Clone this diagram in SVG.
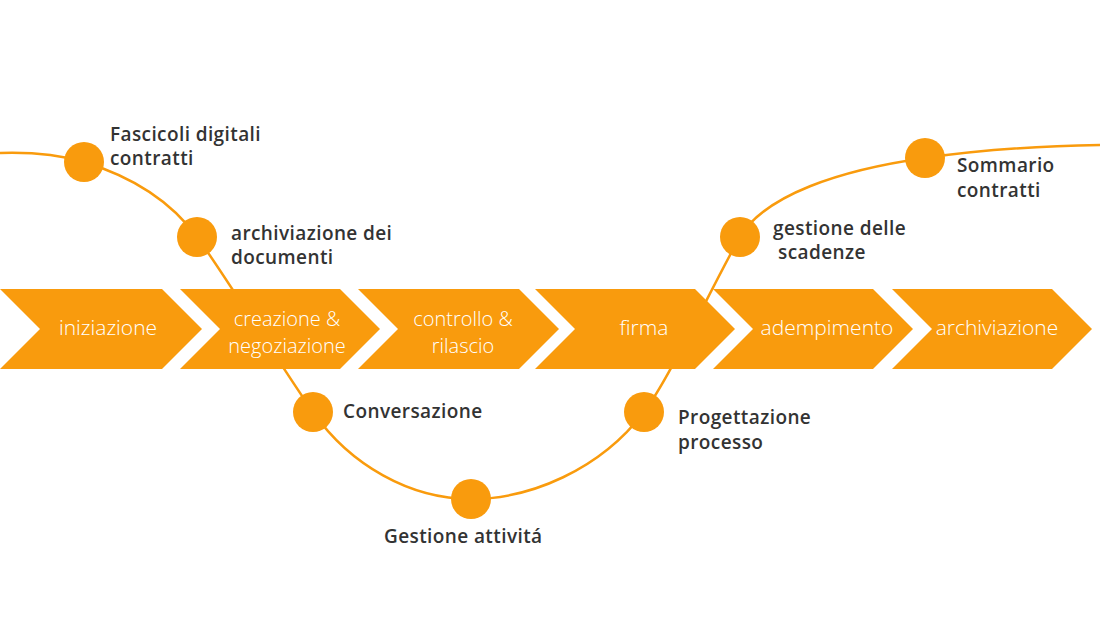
<svg xmlns="http://www.w3.org/2000/svg" width="1100" height="624" viewBox="0 0 1100 624">
<style>
.chev{fill:#F99B0D}
.ct{fill:#ffffff;font-family:"Open Sans","Liberation Sans",sans-serif;font-weight:300;font-size:21px;text-anchor:middle}
.ct2{font-size:20px}
.dot{fill:#F99B0D}
.lbl{fill:#333333;font-family:"Open Sans","Liberation Sans",sans-serif;font-weight:600;font-size:19px;letter-spacing:0.4px}
.wave{fill:none;stroke:#F99B0D;stroke-width:2.5}
</style>
<rect width="1100" height="624" fill="#ffffff"/>
<g id="connectors">
<path class="wave" d="M0,153 C30,152 60,155 84,162 C130,176 170,200 197,237 C225,275 280,365 313,412 C350,465 410,499 471,499 C530,499 600,470 644,412 C670,378 715,280 740,237 C765,195 840,170 925,158 C980,150 1040,146 1100,145"/>
</g>
<g id="chevrons">
<g id="c1"><polygon class="chev" points="0,289 162,289 202,329 162,369 0,369 40,329"/><text class="ct" x="108" y="335">iniziazione</text></g>
<g id="c2"><polygon class="chev" points="180,289 340,289 380,329 340,369 180,369 220,329"/><text class="ct ct2" x="287" y="326">creazione &amp;</text><text class="ct ct2" x="287" y="353">negoziazione</text></g>
<g id="c3"><polygon class="chev" points="358,289 519,289 559,329 519,369 358,369 398,329"/><text class="ct ct2" x="463" y="326">controllo &amp;</text><text class="ct ct2" x="463" y="353">rilascio</text></g>
<g id="c4"><polygon class="chev" points="535,289 695,289 735,329 695,369 535,369 575,329"/><text class="ct" x="644" y="335">firma</text></g>
<g id="c5"><polygon class="chev" points="713,289 873,289 913,329 873,369 713,369 753,329"/><text class="ct" x="827" y="335">adempimento</text></g>
<g id="c6"><polygon class="chev" points="892,289 1052,289 1092,329 1052,369 892,369 932,329"/><text class="ct" x="997" y="335">archiviazione</text></g>
</g>
<g id="n1"><circle class="dot" cx="84" cy="162" r="20"/><text class="lbl" x="110" y="141">Fascicoli digitali</text><text class="lbl" x="110" y="165">contratti</text></g>
<g id="n2"><circle class="dot" cx="197" cy="237" r="20"/><text class="lbl" x="231" y="240">archiviazione dei</text><text class="lbl" x="231" y="264">documenti</text></g>
<g id="n3"><circle class="dot" cx="313" cy="412" r="20"/><text class="lbl" x="343" y="418">Conversazione</text></g>
<g id="n4"><circle class="dot" cx="471" cy="499" r="20"/><text class="lbl" x="384" y="543">Gestione attivitá</text></g>
<g id="n5"><circle class="dot" cx="644" cy="412" r="20"/><text class="lbl" x="678" y="424">Progettazione</text><text class="lbl" x="678" y="449">processo</text></g>
<g id="n6"><circle class="dot" cx="740" cy="237" r="20"/><text class="lbl" x="773" y="235">gestione delle</text><text class="lbl" x="778" y="259">scadenze</text></g>
<g id="n7"><circle class="dot" cx="925" cy="158" r="20"/><text class="lbl" x="957" y="172">Sommario</text><text class="lbl" x="957" y="197">contratti</text></g>
</svg>
